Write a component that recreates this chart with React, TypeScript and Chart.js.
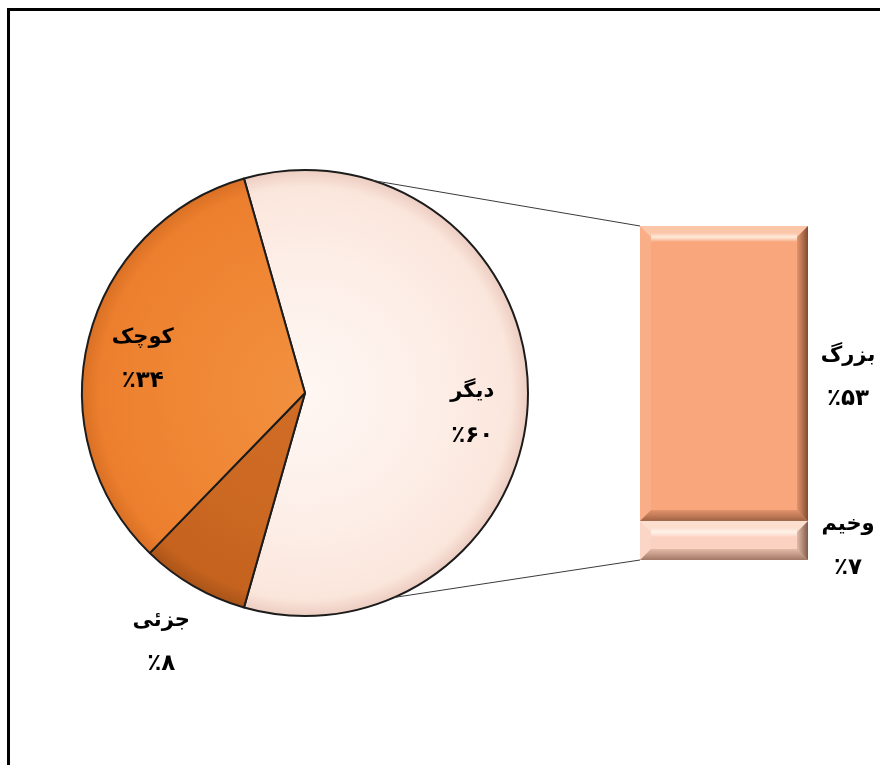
import { useEffect, useRef } from 'react';
import { Chart, registerables } from 'chart.js';

Chart.register(...registerables);

// ---- data ----
const pieCategories = ['دیگر', 'جزئی', 'کوچک'];
const pieValues = [60, 8, 34];
const barCategories = ['بزرگ', 'وخیم'];
const barValues = [53, 7];

const faDigits = (n: number) => String(n).replace(/\d/g, (d) => '۰۱۲۳۴۵۶۷۸۹'[+d]);
const pctLabel = (n: number) => '٪' + faDigits(n);

// ---- styles ----
const FONT = '"DejaVu Sans", sans-serif';
const pieGradients = [
  ['#fff7f3', '#fdeee7', '#fbe6dc', '#eccbbf'],
  ['#d06c25', '#cb6822', '#c4621e', '#a85318'],
  ['#f2903f', '#ef8634', '#ec7f2e', '#d86f24'],
];
const barColors = ['#f9a67c', '#fbd2c2'];
const pieLabelStyle = [
  { r: 0.75, dy: 21 },
  { r: 1.29, dy: 0 },
  { r: 0.75, dy: 7 },
];
const barLabelStyle = [{ dy: 4 }, { dy: 6 }];

function drawLabel(ctx: CanvasRenderingContext2D, x: number, y: number, name: string, pct: string) {
  ctx.save();
  ctx.fillStyle = '#000';
  ctx.textAlign = 'center';
  ctx.textBaseline = 'middle';
  ctx.font = `bold 21px ${FONT}`;
  (ctx as any).direction = 'rtl';
  ctx.fillText(name, x, y - 22);
  (ctx as any).direction = 'ltr';
  ctx.font = `bold 23px ${FONT}`;
  ctx.fillText(pct, x, y + 22);
  ctx.restore();
}

export default function App() {
  const pieRef = useRef<HTMLCanvasElement>(null);
  const barRef = useRef<HTMLCanvasElement>(null);

  useEffect(() => {
    if (!pieRef.current || !barRef.current) return;
    const total = pieValues.reduce((a, b) => a + b, 0);
    const rotation = 90 - (pieValues[0] / total) * 180;

    const framePlugin = {
      id: 'frame',
      beforeDraw(chart: any) {
        const ctx = chart.ctx;
        ctx.save();
        ctx.fillStyle = '#fff';
        ctx.fillRect(0, 0, chart.width, chart.height);
        ctx.fillStyle = '#000';
        ctx.fillRect(7, 8, chart.width - 7, 3);
        ctx.fillRect(7, 8, 3, chart.height - 8);
        ctx.restore();
      },
    };

    const pieLabelsPlugin = {
      id: 'pieLabels',
      afterDatasetsDraw(chart: any) {
        const ctx = chart.ctx;
        const meta = chart.getDatasetMeta(0);
        meta.data.forEach((arc: any, i: number) => {
          const { x, y, startAngle, endAngle, outerRadius } = arc.getProps(
            ['x', 'y', 'startAngle', 'endAngle', 'outerRadius'],
            true
          );
          const mid = (startAngle + endAngle) / 2;
          const st = pieLabelStyle[i];
          const lx = x + Math.cos(mid) * outerRadius * st.r;
          const ly = y + Math.sin(mid) * outerRadius * st.r + st.dy;
          drawLabel(ctx, lx, ly, pieCategories[i], pctLabel(pieValues[i]));
        });
      },
    };

    const pie = new Chart(pieRef.current, {
      type: 'pie',
      data: {
        labels: pieCategories,
        datasets: [
          {
            data: pieValues,
            borderColor: '#1c1c1c',
            borderWidth: 2,
            backgroundColor: (c: any) => {
              const chart = c.chart;
              const area = chart.chartArea;
              const stops = pieGradients[c.dataIndex % pieGradients.length];
              if (!area) return stops[1];
              const cx = (area.left + area.right) / 2;
              const cy = (area.top + area.bottom) / 2;
              const r = Math.min(area.right - area.left, area.bottom - area.top) / 2;
              const g = chart.ctx.createRadialGradient(cx, cy, 0, cx, cy, r);
              g.addColorStop(0, stops[0]);
              g.addColorStop(0.6, stops[1]);
              g.addColorStop(0.92, stops[2]);
              g.addColorStop(1, stops[3]);
              return g;
            },
          },
        ],
      },
      options: {
        responsive: false,
        animation: false,
        rotation,
        layout: { padding: { left: 81, top: 169, right: 351, bottom: 148 } },
        plugins: { legend: { display: false }, tooltip: { enabled: false } },
      },
      plugins: [framePlugin, pieLabelsPlugin],
    });

    // bar datasets: bottom-first in the stack
    const order = barCategories.map((_, i) => i).reverse();

    const barPlugin = {
      id: 'barDeco',
      afterDatasetsDraw(chart: any) {
        const ctx = chart.ctx;
        let left = 0, top = Infinity, bottom = -Infinity;
        chart.data.datasets.forEach((ds: any, di: number) => {
          const el = chart.getDatasetMeta(di).data[0];
          const { x, y, base, width } = el.getProps(['x', 'y', 'base', 'width'], true);
          const l = x - width / 2, r = x + width / 2;
          const t = Math.min(y, base), b = Math.max(y, base);
          left = l;
          top = Math.min(top, t); bottom = Math.max(bottom, b);
          const bv = Math.min(11, (b - t) / 3);
          ctx.save();
          // top bevel (light)
          ctx.fillStyle = 'rgba(255,240,225,0.45)';
          ctx.beginPath();
          ctx.moveTo(l, t); ctx.lineTo(r, t); ctx.lineTo(r - bv, t + bv); ctx.lineTo(l + bv, t + bv); ctx.closePath();
          ctx.fill();
          // highlight line
          const hg = ctx.createLinearGradient(0, t + bv - 4, 0, t + bv + 5);
          hg.addColorStop(0, 'rgba(255,255,255,0)');
          hg.addColorStop(0.5, 'rgba(255,250,240,0.75)');
          hg.addColorStop(1, 'rgba(255,255,255,0)');
          ctx.fillStyle = hg;
          ctx.fillRect(l + bv, t + bv - 4, r - l - 2 * bv, 9);
          // left bevel (light)
          ctx.fillStyle = 'rgba(255,240,225,0.12)';
          ctx.beginPath();
          ctx.moveTo(l, t); ctx.lineTo(l + bv, t + bv); ctx.lineTo(l + bv, b - bv); ctx.lineTo(l, b); ctx.closePath();
          ctx.fill();
          // right bevel (dark)
          const rg = ctx.createLinearGradient(r - bv, 0, r, 0);
          rg.addColorStop(0, 'rgba(90,40,15,0.15)');
          rg.addColorStop(1, 'rgba(60,25,8,0.65)');
          ctx.fillStyle = rg;
          ctx.beginPath();
          ctx.moveTo(r, t); ctx.lineTo(r, b); ctx.lineTo(r - bv, b - bv); ctx.lineTo(r - bv, t + bv); ctx.closePath();
          ctx.fill();
          // bottom bevel (dark)
          const bg = ctx.createLinearGradient(0, b - bv, 0, b);
          bg.addColorStop(0, 'rgba(90,40,15,0.15)');
          bg.addColorStop(1, 'rgba(70,30,10,0.5)');
          ctx.fillStyle = bg;
          ctx.beginPath();
          ctx.moveTo(l, b); ctx.lineTo(r, b); ctx.lineTo(r - bv, b - bv); ctx.lineTo(l + bv, b - bv); ctx.closePath();
          ctx.fill();
          ctx.restore();

          const ci = order[di];
          const st = barLabelStyle[ci];
          drawLabel(ctx, r + 40, (t + b) / 2 + st.dy, barCategories[ci], pctLabel(barValues[ci]));
        });

        // connector lines from the pie's aggregated slice to the bar
        const arc = pie.getDatasetMeta(0).data[0] as any;
        const { x, y, startAngle, endAngle, outerRadius } = arc.getProps(
          ['x', 'y', 'startAngle', 'endAngle', 'outerRadius'],
          true
        );
        const span = endAngle - startAngle;
        const a1 = startAngle + span * 0.158;
        const a2 = endAngle - span * 0.186;
        ctx.save();
        ctx.strokeStyle = '#3a3a3a';
        ctx.lineWidth = 1;
        ctx.beginPath();
        ctx.moveTo(x + Math.cos(a1) * outerRadius, y + Math.sin(a1) * outerRadius);
        ctx.lineTo(left, top);
        ctx.moveTo(x + Math.cos(a2) * outerRadius, y + Math.sin(a2) * outerRadius);
        ctx.lineTo(left, bottom);
        ctx.stroke();
        ctx.restore();
      },
    };

    const barTotal = barValues.reduce((a, b) => a + b, 0);
    const bar = new Chart(barRef.current, {
      type: 'bar',
      data: {
        labels: [''],
        datasets: order.map((i) => ({
          label: barCategories[i],
          data: [barValues[i]],
          backgroundColor: barColors[i],
          borderWidth: 0,
          barPercentage: 1,
          categoryPercentage: 1,
        })),
      },
      options: {
        responsive: false,
        animation: false,
        layout: { padding: { left: 640, right: 72, top: 226, bottom: 205 } },
        scales: {
          x: { display: false, stacked: true },
          y: { display: false, stacked: true, min: 0, max: barTotal },
        },
        plugins: { legend: { display: false }, tooltip: { enabled: false } },
      },
      plugins: [barPlugin],
    });

    return () => {
      bar.destroy();
      pie.destroy();
    };
  }, []);

  return (
    <div style={{ position: 'absolute', left: 0, top: 0, width: 880, height: 765, overflow: 'hidden', background: '#fff' }}>
      <canvas ref={pieRef} width={880} height={765} style={{ position: 'absolute', left: 0, top: 0 }} />
      <canvas ref={barRef} width={880} height={765} style={{ position: 'absolute', left: 0, top: 0 }} />
    </div>
  );
}
